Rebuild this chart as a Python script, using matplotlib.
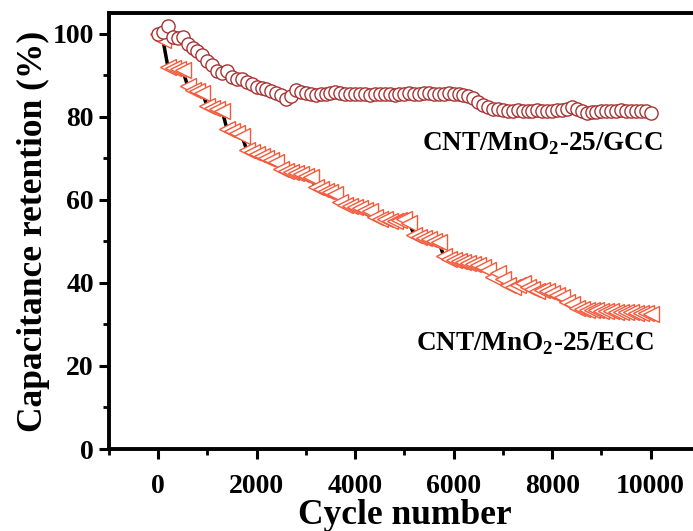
import numpy as np
import matplotlib
matplotlib.use("Agg")
import matplotlib.pyplot as plt
from matplotlib.ticker import MultipleLocator

plt.rcParams["font.family"] = ["Liberation Serif", "DejaVu Serif"]
plt.rcParams["font.weight"] = "bold"
plt.rcParams["mathtext.fontset"] = "custom"
plt.rcParams["mathtext.rm"] = "Liberation Serif:bold"
plt.rcParams["mathtext.bf"] = "Liberation Serif:bold"

# cycle numbers, one point every 100 cycles
cycles = np.arange(0, 10001, 100)

# CNT/MnO2-25/GCC retention (%)
gcc = [
    100.0, 100.5, 101.8, 99.2, 99.0, 99.3, 97.5, 96.5, 95.8, 95.0,
    93.5, 92.5, 91.0, 90.5, 91.0, 89.5, 89.2, 89.0, 88.3, 88.0,
    87.2, 87.0, 86.8, 86.2, 85.7, 85.3, 84.3, 85.0, 86.5, 86.0,
    85.8, 85.5, 85.2, 85.5, 85.6, 85.8, 86.0, 85.8, 85.6, 85.5,
    85.4, 85.6, 85.5, 85.3, 85.4, 85.5, 85.6, 85.4, 85.3, 85.5,
    85.6, 85.7, 85.6, 85.5, 85.7, 85.8, 85.6, 85.5, 85.6, 85.7,
    85.5, 85.4, 85.2, 85.0, 84.5, 83.5, 82.8, 82.3, 82.0, 81.8,
    81.6, 81.5, 81.4, 81.6, 81.5, 81.4, 81.5, 81.6, 81.5, 81.4,
    81.5, 81.6, 81.7, 82.0, 82.3, 81.8, 81.3, 81.0, 81.1, 81.2,
    81.3, 81.4, 81.5, 81.5, 81.6, 81.5, 81.4, 81.5, 81.4, 81.3,
    80.8,
]

# CNT/MnO2-25/ECC retention (%)
ecc = [
    100.0, 98.5, 92.0, 91.8, 91.5, 91.2, 87.5, 86.5, 86.2, 85.8,
    82.5, 82.2, 82.0, 81.5, 77.0, 76.5, 76.0, 75.5, 72.0, 71.5,
    71.0, 70.5, 70.0, 69.5, 69.0, 67.5, 67.0, 66.8, 66.5, 66.2,
    65.8, 65.5, 63.0, 62.5, 62.2, 62.0, 61.5, 59.5, 58.8, 58.5,
    58.2, 58.0, 57.5, 57.2, 55.8, 55.5, 55.3, 55.0, 54.8, 55.2,
    55.5, 54.5, 51.5, 51.0, 50.8, 50.5, 50.2, 49.8, 46.5, 45.8,
    45.5, 45.3, 45.0, 44.8, 44.5, 44.2, 43.8, 43.0, 41.5, 42.5,
    41.0, 39.5, 39.0, 39.5, 40.0, 39.0, 38.5, 38.0, 38.2, 38.0,
    37.5, 37.0, 36.5, 35.5, 35.0, 34.0, 33.8, 33.5, 33.5, 33.4,
    33.3, 33.2, 33.2, 33.1, 33.0, 33.0, 32.9, 32.8, 32.8, 32.7,
    32.5,
]

labels = [r"CNT/MnO$_\mathbf{2}$-25/GCC", r"CNT/MnO$_\mathbf{2}$-25/ECC"]

fig = plt.figure(figsize=(6.93, 5.31), dpi=100)
ax = fig.add_axes([0.157, 0.1544, 0.853, 0.8211])

ax.plot(cycles, ecc, color="black", lw=2.5, marker="<", ms=11.5,
        mfc="white", mec="#f25a3c", mew=1.0)
ax.plot(cycles, gcc, color="#a83232", lw=1.0, marker="o", ms=9.5,
        mfc="white", mec="#a83232", mew=1.0)

ax.text(7810, 73.5, labels[0], fontsize=19.5, fontweight="bold",
        ha="center", va="center")
ax.text(7650, 25.3, labels[1], fontsize=19.5, fontweight="bold",
        ha="center", va="center")

ax.set_xlim(-1000, 11000)
ax.set_ylim(0, 105)
ax.xaxis.set_major_locator(MultipleLocator(2000))
ax.xaxis.set_minor_locator(MultipleLocator(1000))
ax.yaxis.set_major_locator(MultipleLocator(20))
ax.yaxis.set_minor_locator(MultipleLocator(10))

ax.set_xlabel("Cycle number", fontsize=25.5, fontweight="bold", labelpad=0)
ax.set_ylabel("Capacitance retention (%)", fontsize=25.5, fontweight="bold",
              labelpad=2)

for s in ax.spines.values():
    s.set_linewidth(2.8)
ax.tick_params(which="major", direction="out", length=7.2, width=2.2,
               labelsize=20)
ax.tick_params(axis="x", which="major", pad=11)
ax.tick_params(axis="y", which="major", pad=3.6)
ax.tick_params(which="minor", direction="out", length=4.5, width=2.0)
ax.tick_params(top=False, right=False)
for t in ax.get_xticklabels() + ax.get_yticklabels():
    t.set_fontweight("bold")

fig.savefig("out.png", dpi=100)
